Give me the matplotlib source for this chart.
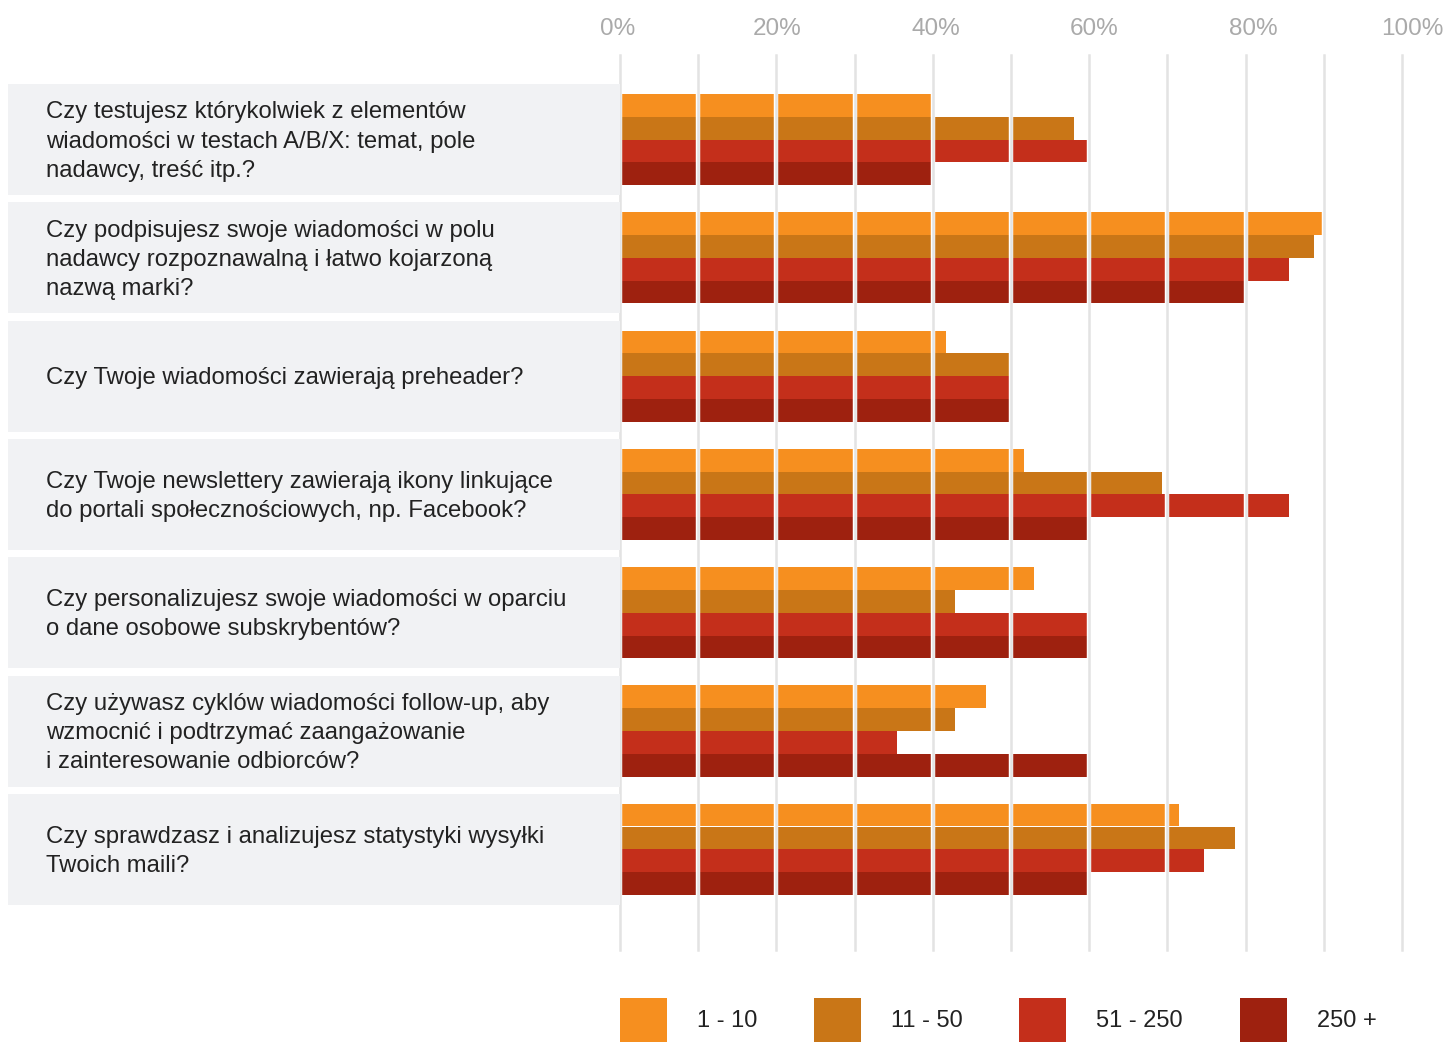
import matplotlib.pyplot as plt
from matplotlib.patches import Patch
import numpy as np

plt.rcParams["font.family"] = ["Liberation Sans", "DejaVu Sans"]

questions = [
    "Czy testujesz którykolwiek z elementów\nwiadomości w testach A/B/X: temat, pole\nnadawcy, treść itp.?",
    "Czy podpisujesz swoje wiadomości w polu\nnadawcy rozpoznawalną i łatwo kojarzoną\nnazwą marki?",
    "Czy Twoje wiadomości zawierają preheader?",
    "Czy Twoje newslettery zawierają ikony linkujące\ndo portali społecznościowych, np. Facebook?",
    "Czy personalizujesz swoje wiadomości w oparciu\no dane osobowe subskrybentów?",
    "Czy używasz cyklów wiadomości follow-up, aby\nwzmocnić i podtrzymać zaangażowanie\ni zainteresowanie odbiorców?",
    "Czy sprawdzasz i analizujesz statystyki wysyłki\nTwoich maili?",
]

groups = ["1 - 10", "11 - 50", "51 - 250", "250 +"]

# percent of "yes" answers per company size
size_1_10 = [40.0, 90.0, 41.7, 51.7, 53.0, 46.8, 71.5]
size_11_50 = [58.0, 88.7, 50.0, 69.3, 42.8, 42.8, 78.6]
size_51_250 = [60.0, 85.5, 50.0, 85.5, 60.0, 35.4, 74.7]
size_250_plus = [40.0, 80.0, 50.0, 60.0, 60.0, 60.0, 60.0]

series = [size_1_10, size_11_50, size_51_250, size_250_plus]
colors = ["#F68F1F", "#C97617", "#C42F1B", "#9E210F"]

W, H = 1446, 1043
fig = plt.figure(figsize=(W / 100, H / 100), dpi=100)
fig.patch.set_facecolor("white")

# axes extents in pixels
x0, x1 = 620, 1402
y_top, y_bot = 55, 950
pitch = 118.3
first_center = 139.5

n = len(questions)
ylim = (n - 1 + (y_bot - (first_center + (n - 1) * pitch)) / pitch,
        -(first_center - y_top) / pitch)

ax = fig.add_axes([x0 / W, 1 - y_bot / H, (x1 - x0) / W, (y_bot - y_top) / H])
lab = fig.add_axes([8 / W, 1 - y_bot / H, (x0 - 8) / W, (y_bot - y_top) / H])

# question panels on the left
pos = np.arange(n)
lab.barh(pos, [1] * n, height=111 / pitch, color="#F1F2F4", left=0)
for i, q in enumerate(questions):
    lab.text(38 / 612, i + 0.018, q, ha="left", va="center", fontsize=17.2,
             color="#222222", linespacing=1.42)
lab.set_xlim(0, 1)
lab.set_ylim(*ylim)
lab.axis("off")

# grouped bars
bar_h = 22.8 / pitch
offsets = (np.arange(4) - 1.5) * bar_h
for vals, off, c, g in zip(series, offsets, colors, groups):
    ax.barh(pos + off, vals, height=bar_h, color=c, label=g, zorder=2)

ax.set_xlim(0, 100)
ax.set_ylim(*ylim)
for t in np.arange(0, 101, 10):
    ax.axvline(t, color="white", linewidth=3.2, zorder=3, clip_on=False)
    ax.axvline(t, color="#E3E3E3", linewidth=1.8, zorder=4, clip_on=False)
ax.set_xticks([])
ax.set_yticks([])
for s in ax.spines.values():
    s.set_visible(False)

# percent labels sit on their own, slightly wider scale
scale = fig.add_axes([618 / W, 1 - y_bot / H, (1412 - 618) / W,
                      (y_bot - y_top) / H])
scale.patch.set_visible(False)
scale.set_xlim(0, 100)
scale.xaxis.tick_top()
scale.set_xticks(np.arange(0, 101, 20))
scale.set_xticklabels([f"{t}%" for t in range(0, 101, 20)])
scale.tick_params(axis="x", length=0, pad=10.9, labelsize=17.5,
                  labelcolor="#AAAAAA")
scale.set_yticks([])
for s in scale.spines.values():
    s.set_visible(False)

handles = [Patch(facecolor=c, edgecolor="none") for c in colors]
fig.legend(handles, groups, loc="center left", ncol=4, frameon=False,
           bbox_to_anchor=(x0 / W, 1 - 1020 / H), fontsize=17,
           labelcolor="#222222", handlelength=1.99, handleheight=2.49,
           handletextpad=1.27, columnspacing=2.4, borderaxespad=0,
           borderpad=0)

fig.savefig("out.png", dpi=100, facecolor="white")
